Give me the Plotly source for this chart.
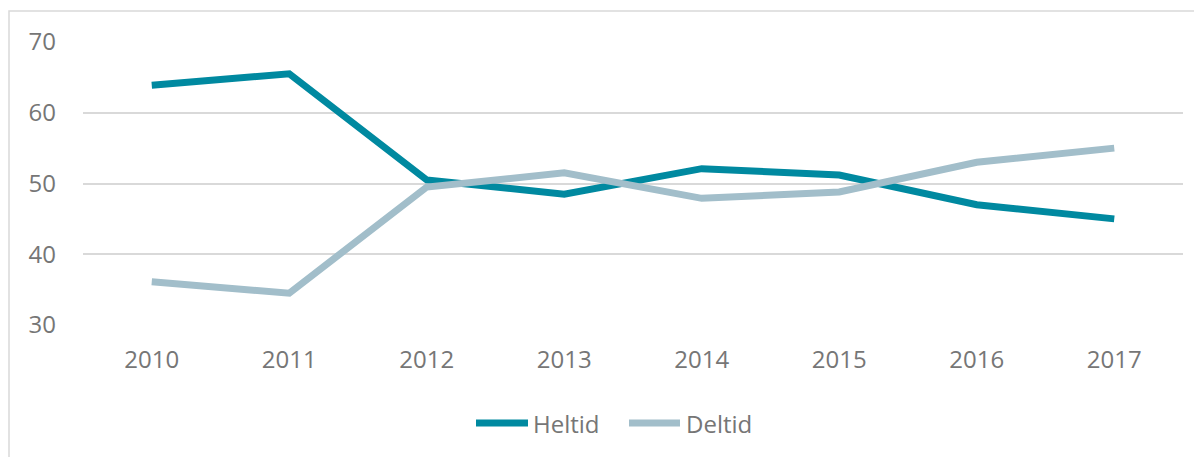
import plotly.graph_objects as go

years = ["2010", "2011", "2012", "2013", "2014", "2015", "2016", "2017"]
heltid = [63.9, 65.5, 50.5, 48.5, 52.1, 51.2, 47.0, 45.0]
deltid = [36.1, 34.5, 49.5, 51.5, 47.9, 48.8, 53.0, 55.0]
y_ticks = [30, 40, 50, 60, 70]

C_HEL = "#0089A0"
C_DEL = "#A2BECA"
TXT = "#767676"
FONT = "Open Sans"

OFF = 8  # page body margin
W, H = 1202 - OFF, 457 - OFF
L, R, T, B = 83 - OFF, 1202 - 1183, 42 - OFF, 457 - 325
pw, ph = W - L - R, H - T - B

def px(x):
    return (x - OFF - L) / pw

def py(y):
    return (H - B - (y - OFF)) / ph

fig = go.Figure()
fig.add_trace(go.Scatter(x=years, y=heltid, mode="lines", name="Heltid",
                         line=dict(color=C_HEL, width=7), showlegend=False))
fig.add_trace(go.Scatter(x=years, y=deltid, mode="lines", name="Deltid",
                         line=dict(color=C_DEL, width=7), showlegend=False))

shapes = [
    dict(type="rect", xref="paper", yref="paper", x0=px(9), x1=px(1230), y0=py(11), y1=py(480),
         line=dict(color="#d9d9d9", width=1.5), layer="below"),
    dict(type="line", xref="paper", yref="paper", x0=px(476), x1=px(528), y0=py(423), y1=py(423),
         line=dict(color=C_HEL, width=7)),
    dict(type="line", xref="paper", yref="paper", x0=px(629), x1=px(680), y0=py(423), y1=py(423),
         line=dict(color=C_DEL, width=7)),
]
annotations = [
    dict(text="Heltid", xref="paper", yref="paper", x=px(531), y=py(423), xanchor="left", yanchor="middle",
         showarrow=False, font=dict(family=FONT, size=24, color=TXT)),
    dict(text="Deltid", xref="paper", yref="paper", x=px(684), y=py(423), xanchor="left", yanchor="middle",
         showarrow=False, font=dict(family=FONT, size=24, color=TXT)),
]

fig.update_layout(
    width=W, height=H,
    margin=dict(l=L, r=R, t=T, b=B),
    paper_bgcolor="white", plot_bgcolor="white",
    font=dict(family=FONT, size=24, color=TXT),
    shapes=shapes, annotations=annotations,
    showlegend=False,
)
fig.update_xaxes(type="category", range=[-0.5, 7.5], showgrid=False, showline=False, zeroline=False,
                 tickfont=dict(family=FONT, size=24, color=TXT), ticks="", ticklabelstandoff=18)
fig.update_yaxes(range=[30, 70], tickvals=y_ticks, showgrid=True, gridcolor="#d9d9d9", gridwidth=1.5,
                 zeroline=False, showline=False, ticks="", ticklabelstandoff=26,
                 tickfont=dict(family=FONT, size=24, color=TXT))

fig.write_html("out.html")
